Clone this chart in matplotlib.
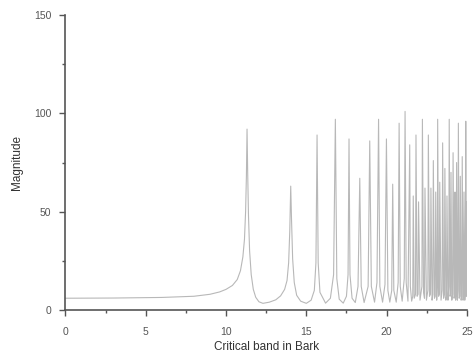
import matplotlib
matplotlib.use("Agg")
import matplotlib.pyplot as plt
from matplotlib.ticker import MultipleLocator

# Vertices of the magnitude curve (Bark, magnitude)
bark = [0.0, 3.0, 6.0, 8.0, 9.0, 9.6, 10.0, 10.4, 10.7, 10.9, 11.05, 11.15, 11.22, 11.27, 11.31,
        11.35, 11.4, 11.47, 11.57, 11.7, 11.85, 12.05, 12.3, 12.7, 13.1, 13.4, 13.65, 13.8, 13.9, 13.97,
        14.03, 14.08, 14.15, 14.25, 14.4, 14.65, 15.0,
        15.3, 15.5, 15.6, 15.67, 15.74, 15.85, 16.2, 16.5, 16.7, 16.81, 16.9, 17.05, 17.3,
        17.5, 17.6, 17.66, 17.72, 17.85, 18.05, 18.22, 18.33, 18.42, 18.6,
        18.85, 18.95, 19.05, 19.25, 19.4, 19.5, 19.58, 19.75, 19.9, 19.99, 20.08, 20.2,
        20.32, 20.38, 20.45, 20.6, 20.72, 20.78, 20.85, 20.97, 21.1, 21.15, 21.22, 21.33,
        21.44, 21.48, 21.56, 21.63, 21.66, 21.72, 21.8, 21.83, 21.9, 21.96, 21.99, 22.08,
        22.2, 22.23, 22.3, 22.36, 22.39, 22.48, 22.57, 22.6, 22.67, 22.73, 22.76, 22.83,
        22.88, 22.91, 22.98, 23.03, 23.06, 23.12, 23.16, 23.18, 23.24, 23.28, 23.31, 23.39,
        23.46, 23.49, 23.55, 23.6, 23.63, 23.69, 23.73, 23.76, 23.82, 23.87, 23.9, 23.95,
        23.98, 24.01, 24.06, 24.11, 24.14, 24.2, 24.23, 24.26, 24.3, 24.33, 24.36, 24.41,
        24.44, 24.47, 24.52, 24.56, 24.59, 24.64, 24.68, 24.71, 24.76, 24.79, 24.82, 24.87,
        24.9, 24.93, 24.97, 25.0]
magnitude = [6.0, 6.1, 6.4, 7.0, 8.0, 9.2, 10.5, 12.5, 15.5, 20.0, 27.0, 36.0, 50.0, 68.0, 92.0,
             70.0, 48.0, 30.0, 18.0, 10.5, 6.5, 4.2, 3.4, 4.0, 5.2, 7.2, 10.5, 15.0, 24.0, 40.0,
             63.0, 46.0, 26.0, 14.0, 7.5, 4.5, 3.4,
             5.0, 10.0, 24.0, 89.0, 24.0, 9.0, 3.5, 6.0, 18.0, 97.0, 16.0, 5.5, 3.5,
             7.0, 18.0, 87.0, 18.0, 6.0, 3.8, 12.0, 67.0, 12.0, 3.8,
             12.0, 86.0, 12.0, 4.0, 14.0, 97.0, 12.0, 4.0, 13.0, 87.0, 10.0, 4.0,
             10.0, 64.0, 10.0, 4.0, 14.0, 95.0, 12.0, 4.5, 16.0, 101.0, 14.0, 4.5,
             84.0, 12.0, 4.5, 7.0, 58.0, 6.0, 8.0, 89.0, 7.0, 8.0, 55.0, 5.0,
             12.0, 97.0, 9.0, 6.0, 62.0, 5.0, 10.0, 89.0, 7.0, 8.0, 62.0, 5.0,
             8.0, 76.0, 6.0, 7.0, 60.0, 5.0, 12.0, 97.0, 7.0, 8.0, 65.0, 5.0,
             10.0, 85.0, 6.0, 8.0, 72.0, 5.0, 7.0, 58.0, 5.0, 12.0, 97.0, 7.0,
             8.0, 70.0, 5.0, 8.0, 80.0, 6.0, 7.0, 60.0, 5.0, 7.0, 75.0, 5.0,
             10.0, 95.0, 6.0, 7.0, 68.0, 5.0, 7.0, 78.0, 5.0, 7.0, 60.0, 5.0,
             10.0, 96.0, 7.0, 55.0]

x_ticks = [0, 5, 10, 15, 20, 25]
y_ticks = [0, 50, 100, 150]

fig = plt.figure(figsize=(4.74, 3.58), dpi=100)
ax = fig.add_axes([0.138, 0.134, 0.847, 0.824])
ax.plot(bark, magnitude, color="#b8b8b8", lw=0.8)

ax.set_xlim(0, 25)
ax.set_ylim(0, 150)
ax.set_xticks(x_ticks)
ax.set_yticks(y_ticks)
ax.xaxis.set_minor_locator(MultipleLocator(2.5))
ax.yaxis.set_minor_locator(MultipleLocator(25))
for s in ["top", "right"]:
    ax.spines[s].set_visible(False)
for s in ["left", "bottom"]:
    ax.spines[s].set_color("#555555")
    ax.spines[s].set_linewidth(1.2)
ax.tick_params(which="major", direction="out", length=4, width=1, color="#555555",
               labelsize=7.5, labelcolor="#555555")
ax.tick_params(axis="x", which="major", pad=8)
ax.tick_params(axis="y", which="major", pad=6)
ax.tick_params(which="minor", direction="out", length=2.5, width=1, color="#555555")

font = "Liberation Sans"
for lab in ax.get_xticklabels() + ax.get_yticklabels():
    lab.set_family(font)
ax.set_xlabel("Critical band in Bark", fontsize=8.5, family=font, color="#333333", labelpad=3)
ax.set_ylabel("Magnitude", fontsize=8.5, family=font, color="#333333", labelpad=8)

fig.savefig("out.png", dpi=100)
